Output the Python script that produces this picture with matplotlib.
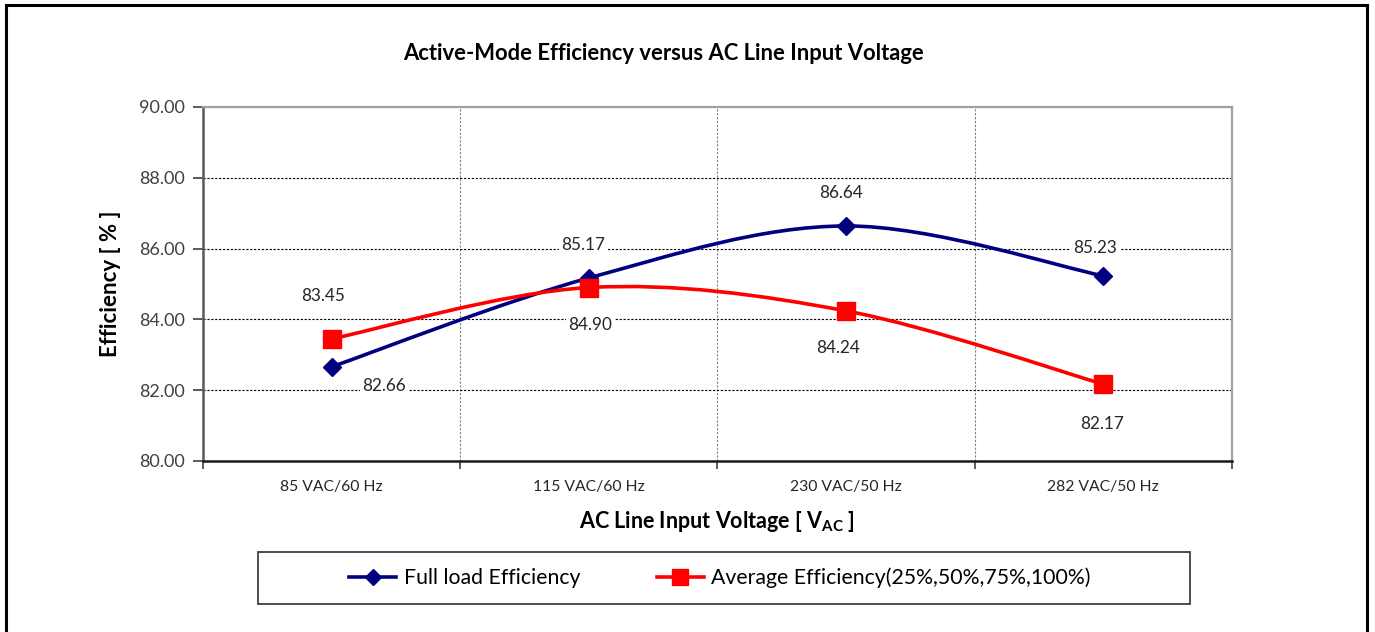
import matplotlib
matplotlib.use('Agg')
import matplotlib.pyplot as plt
import numpy as np
from matplotlib.path import Path
from matplotlib.patches import PathPatch, Rectangle
from matplotlib.lines import Line2D

plt.rcParams['font.family'] = ['Lato', 'DejaVu Sans']
plt.rcParams['mathtext.fontset'] = 'custom'
plt.rcParams['mathtext.rm'] = 'Lato'
plt.rcParams['mathtext.bf'] = 'Lato:bold'

# data
categories = ['85 VAC/60 Hz', '115 VAC/60 Hz', '230 VAC/50 Hz', '282 VAC/50 Hz']
full_load = [82.66, 85.17, 86.64, 85.23]
average_eff = [83.45, 84.90, 84.24, 82.17]
series_names = ['Full load Efficiency', 'Average Efficiency(25%,50%,75%,100%)']
y_ticks = [80, 82, 84, 86, 88, 90]

# label offsets in points (layout only)
full_offsets = [(38, -14), (-4, 24), (-4, 24), (-6, 20)]
avg_offsets = [(-6, 31), (1, -27), (-6, -27), (-1, -29)]

blue = '#000080'
red = '#FF0000'


def smooth_path(xs, ys):
    # excel-like smoothed line: cubic bezier, catmull-rom control points
    pts = np.column_stack([xs, ys]).astype(float)
    n = len(pts)
    verts = [pts[0]]
    codes = [Path.MOVETO]
    for i in range(n - 1):
        p0 = pts[i - 1] if i > 0 else pts[i]
        p1 = pts[i]
        p2 = pts[i + 1]
        p3 = pts[i + 2] if i + 2 < n else pts[i + 1]
        c1 = p1 + (p2 - p0) / 6.0
        c2 = p2 - (p3 - p1) / 6.0
        verts += [c1, c2, p2]
        codes += [Path.CURVE4] * 3
    return Path(verts, codes)


fig = plt.figure(figsize=(13.75, 6.32), dpi=100)
ax = fig.add_axes([0.1476, 0.2706, 0.7484, 0.5601])

x = np.arange(len(categories))

for vals, col, mk, ms, offs in [(full_load, blue, 'D', 9, full_offsets),
                                (average_eff, red, 's', 13, avg_offsets)]:
    ax.add_patch(PathPatch(smooth_path(x, vals), facecolor='none', edgecolor=col,
                           lw=2.6, zorder=3, capstyle='round'))
    ax.plot(x, vals, linestyle='none', marker=mk, ms=ms, color=col, zorder=4)
    for xi, v, off in zip(x, vals, offs):
        ax.annotate(f'{v:.2f}', (xi, v), xytext=off, textcoords='offset points',
                    ha='center', va='center', fontsize=12.3, color='#262626',
                    bbox=dict(facecolor='white', edgecolor='none', pad=2), zorder=5)

ax.set_xlim(-0.5, len(categories) - 0.5)
ax.set_ylim(80, 90)
ax.set_yticks(y_ticks)
ax.set_yticklabels([f'{t:.2f}' for t in y_ticks], fontsize=13, color='#404040')
ax.set_xticks(x)
ax.set_xticklabels(categories, fontsize=11.3, color='#262626')
ax.tick_params(axis='x', which='major', length=0, pad=14)
ax.set_xticks(np.arange(-0.5, len(categories)), minor=True)
ax.tick_params(axis='x', which='minor', length=6, width=1.2, color='#404040', direction='out')
ax.tick_params(axis='y', length=7, width=1.2, color='#404040', pad=6)

ax.grid(axis='y', color='black', linestyle=(0, (2, 1.5)), lw=0.8)
ax.grid(axis='x', which='minor', color='#808080', linestyle=(0, (2, 1.5)), lw=0.8)
ax.set_axisbelow(True)

ax.spines['left'].set_color('#595959')
ax.spines['left'].set_linewidth(1.8)
ax.spines['bottom'].set_color('#1a1a1a')
ax.spines['bottom'].set_linewidth(1.8)
for s in ['top', 'right']:
    ax.spines[s].set_color('#A0A0A0')
    ax.spines[s].set_linewidth(1.6)

ax.set_ylabel('Efficiency [ % ]', fontsize=16, fontweight='bold', labelpad=13)
ax.set_xlabel(r'AC Line Input Voltage [ $\mathbf{V_{AC}}$ ]', fontsize=15.5,
              fontweight='bold', labelpad=10.5)
fig.text(0.4825, 1 - 53 / 632, 'Active-Mode Efficiency versus AC Line Input Voltage',
         ha='center', va='center', fontsize=15.8, fontweight='bold')

# legend box
fig.add_artist(Rectangle((258 / 1375, 1 - 604 / 632), 932 / 1375, 52 / 632,
                         transform=fig.transFigure, facecolor='white',
                         edgecolor='#404040', lw=1.3))
handles = [Line2D([], [], color=blue, lw=2.6, marker='D', ms=8),
           Line2D([], [], color=red, lw=2.6, marker='s', ms=11)]
fig.legend(handles, series_names, loc='center', frameon=False, ncol=2,
           bbox_to_anchor=(720 / 1375, 1 - 578 / 632), fontsize=15.3,
           handlelength=2.2, handletextpad=0.37, columnspacing=3.6)

# outer frame
fx0, fx1, fy1 = 6 / 1375, 1367 / 1375, 1 - 5 / 632
for xs, ys in [([fx0, fx0], [-0.1, fy1]), ([fx0, fx1], [fy1, fy1]), ([fx1, fx1], [fy1, -0.1])]:
    fig.add_artist(Line2D(xs, ys, transform=fig.transFigure, color='black', lw=2.2))

fig.savefig('out.png', dpi=100)
